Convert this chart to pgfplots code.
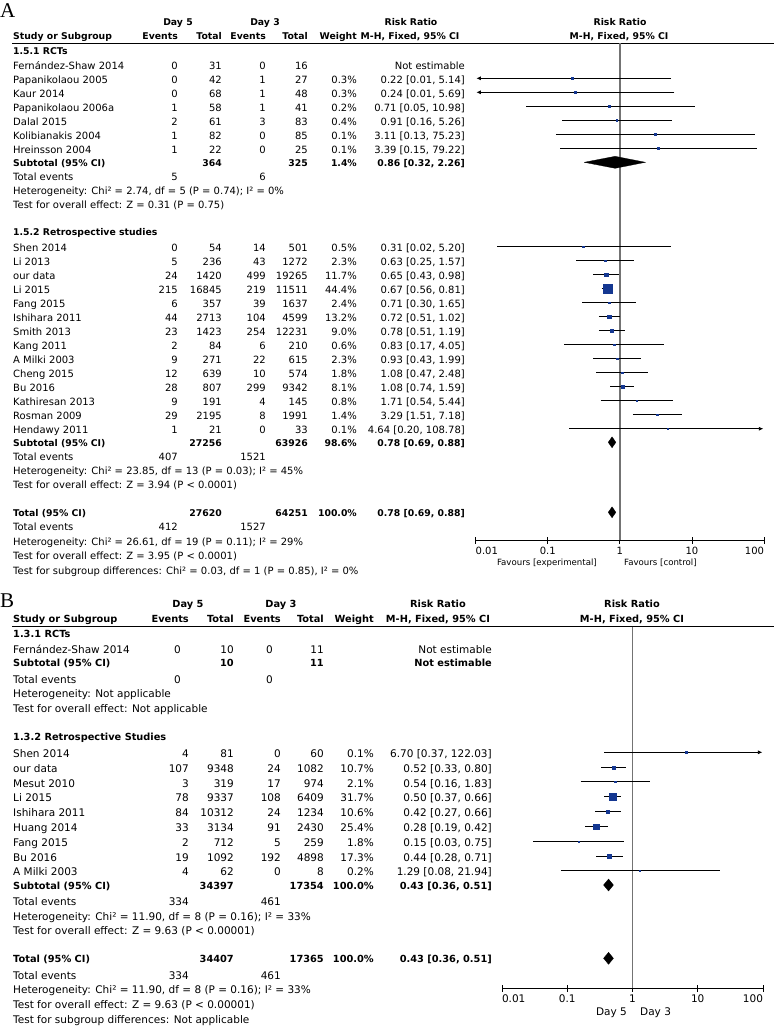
\documentclass[border=0pt]{standalone}
\usepackage{fontspec}
\setmainfont{DejaVu Sans}
\newfontfamily\serifL{Liberation Serif}
\usepackage{pgfplots}
\pgfplotsset{compat=1.18}
\usetikzlibrary{arrows.meta}
\definecolor{rmblue}{RGB}{20,55,145}
\definecolor{vgray}{RGB}{115,115,115}
\newcommand{\fA}{\fontsize{10}{12}\selectfont}
\newcommand{\fAb}{\fontsize{9.3}{12}\selectfont\bfseries}
\newcommand{\fB}{\fontsize{10.5}{12.5}\selectfont}
\newcommand{\fBb}{\fontsize{9.8}{12.5}\selectfont\bfseries}
\newcommand{\fS}{\fontsize{8.6}{10}\selectfont}
\newcommand{\TL}[4]{\node[anchor=base west,inner sep=0pt,font=#1] at (#2,-#3) {#4};}
\newcommand{\TR}[4]{\node[anchor=base east,inner sep=0pt,font=#1] at (#2,-#3) {#4};}
\newcommand{\TC}[4]{\node[anchor=base,inner sep=0pt,font=#1] at (#2,-#3) {#4};}
\newcommand{\rowX}[9]{%
\node[anchor=base west,inner sep=0pt,font=#1] at (13,-#2) {#3};%
\node[anchor=base east,inner sep=0pt,font=#1] at (\cEa,-#2) {#4};%
\node[anchor=base east,inner sep=0pt,font=#1] at (\cTa,-#2) {#5};%
\node[anchor=base east,inner sep=0pt,font=#1] at (\cEb,-#2) {#6};%
\node[anchor=base east,inner sep=0pt,font=#1] at (\cTb,-#2) {#7};%
\node[anchor=base east,inner sep=0pt,font=#1] at (\cW,-#2) {#8};%
\node[anchor=base east,inner sep=0pt,font=#1] at (\cR,-#2) {#9};}
\begin{document}
\begin{tikzpicture}[x=1pt,y=1pt]
\useasboundingbox (0,0) rectangle (774,-1026);
% ================= PANEL A =================
\node[anchor=base west,inner sep=0pt,font=\serifL\fontsize{21}{22}\selectfont] at (0,-17) {A};
\def\cEa{178}\def\cTa{222}\def\cEb{266}\def\cTb{308}\def\cW{357}\def\cR{465}
\TC{\fAb}{178}{25.5}{Day 5}
\TC{\fAb}{265}{25.5}{Day 3}
\TC{\fAb}{411}{25.5}{Risk Ratio}
\TC{\fAb}{620}{25.5}{Risk Ratio}
\rowX{\fAb}{39.5}{Study or Subgroup}{Events}{Total}{Events}{Total}{Weight}{}
\TC{\fAb}{410}{39.5}{M-H, Fixed, 95\% CI}
\TC{\fAb}{619}{39.5}{M-H, Fixed, 95\% CI}
\draw[black, line width=0.8pt] (12,-43.5) -- (774,-43.5);
\TL{\fAb}{13}{54.5}{1.5.1 RCTs}
\rowX{\fA}{69.3}{Fernández-Shaw 2014}{0}{31}{0}{16}{}{Not estimable}
\rowX{\fA}{83.3}{Papanikolaou 2005}{0}{42}{1}{27}{0.3\%}{0.22 [0.01, 5.14]}
\rowX{\fA}{97.3}{Kaur 2014}{0}{68}{1}{48}{0.3\%}{0.24 [0.01, 5.69]}
\rowX{\fA}{111.3}{Papanikolaou 2006a}{1}{58}{1}{41}{0.2\%}{0.71 [0.05, 10.98]}
\rowX{\fA}{125.3}{Dalal 2015}{2}{61}{3}{83}{0.4\%}{0.91 [0.16, 5.26]}
\rowX{\fA}{139.3}{Kolibianakis 2004}{1}{82}{0}{85}{0.1\%}{3.11 [0.13, 75.23]}
\rowX{\fA}{153.3}{Hreinsson 2004}{1}{22}{0}{25}{0.1\%}{3.39 [0.15, 79.22]}
\rowX{\fAb}{166.3}{Subtotal (95\% CI)}{}{364}{}{325}{1.4\%}{0.86 [0.32, 2.26]}
\rowX{\fA}{180.5}{Total events}{5}{}{6}{}{}{}
\TL{\fA}{13}{194.5}{Heterogeneity: Chi² = 2.74, df = 5 (P = 0.74); I² = 0\%}
\TL{\fA}{13}{208.5}{Test for overall effect: Z = 0.31 (P = 0.75)}
\TL{\fAb}{13}{235.5}{1.5.2 Retrospective studies}
\rowX{\fA}{251.7}{Shen 2014}{0}{54}{14}{501}{0.5\%}{0.31 [0.02, 5.20]}
\rowX{\fA}{265.7}{Li 2013}{5}{236}{43}{1272}{2.3\%}{0.63 [0.25, 1.57]}
\rowX{\fA}{279.7}{our data}{24}{1420}{499}{19265}{11.7\%}{0.65 [0.43, 0.98]}
\rowX{\fA}{293.7}{Li 2015}{215}{16845}{219}{11511}{44.4\%}{0.67 [0.56, 0.81]}
\rowX{\fA}{307.7}{Fang 2015}{6}{357}{39}{1637}{2.4\%}{0.71 [0.30, 1.65]}
\rowX{\fA}{321.7}{Ishihara 2011}{44}{2713}{104}{4599}{13.2\%}{0.72 [0.51, 1.02]}
\rowX{\fA}{335.7}{Smith 2013}{23}{1423}{254}{12231}{9.0\%}{0.78 [0.51, 1.19]}
\rowX{\fA}{349.7}{Kang 2011}{2}{84}{6}{210}{0.6\%}{0.83 [0.17, 4.05]}
\rowX{\fA}{363.7}{A Milki 2003}{9}{271}{22}{615}{2.3\%}{0.93 [0.43, 1.99]}
\rowX{\fA}{377.7}{Cheng 2015}{12}{639}{10}{574}{1.8\%}{1.08 [0.47, 2.48]}
\rowX{\fA}{391.7}{Bu 2016}{28}{807}{299}{9342}{8.1\%}{1.08 [0.74, 1.59]}
\rowX{\fA}{405.7}{Kathiresan 2013}{9}{191}{4}{145}{0.8\%}{1.71 [0.54, 5.44]}
\rowX{\fA}{419.7}{Rosman 2009}{29}{2195}{8}{1991}{1.4\%}{3.29 [1.51, 7.18]}
\rowX{\fA}{433.7}{Hendawy 2011}{1}{21}{0}{33}{0.1\%}{4.64 [0.20, 108.78]}
\rowX{\fAb}{446}{Subtotal (95\% CI)}{}{27256}{}{63926}{98.6\%}{0.78 [0.69, 0.88]}
\rowX{\fA}{460.5}{Total events}{407}{}{1521}{}{}{}
\TL{\fA}{13}{474.5}{Heterogeneity: Chi² = 23.85, df = 13 (P = 0.03); I² = 45\%}
\TL{\fA}{13}{488.5}{Test for overall effect: Z = 3.94 (P < 0.0001)}
\rowX{\fAb}{516}{Total (95\% CI)}{}{27620}{}{64251}{100.0\%}{0.78 [0.69, 0.88]}
\rowX{\fA}{530.5}{Total events}{412}{}{1527}{}{}{}
\TL{\fA}{13}{545}{Heterogeneity: Chi² = 26.61, df = 19 (P = 0.11); I² = 29\%}
\TL{\fA}{13}{559.5}{Test for overall effect: Z = 3.95 (P < 0.0001)}
\TL{\fA}{13}{574}{Test for subgroup differences: Chi² = 0.03, df = 1 (P = 0.85), I² = 0\%}
\begin{axis}[at={(475.7pt,-540pt)}, anchor=south west,
  scale only axis, width=288.3pt, height=497pt,
  xmode=log, xmin=0.01, xmax=100, ymin=-540, ymax=-43,
  axis x line=bottom, axis y line=none,
  x axis line style={-, black, line width=0.8pt},
  xtick={0.01,0.1,1,10,100},
  xticklabels={\makebox[0pt][l]{0.01},0.1,1,10,\makebox[0pt][r]{100}},
  xminorticks=false, major tick length=7pt, tick align=center,
  xtick style={black, line width=0.8pt},
  enlargelimits=false, clip=false,
  xticklabel style={font=\fA}]
\addplot[vgray, line width=1.4pt] coordinates {(1,-43) (1,-540)};
\addplot[black, line width=0.8pt, unbounded coords=jump] table {
x y
0.05 -106.3
10.98 -106.3
nan nan
0.16 -120.3
5.26 -120.3
nan nan
0.13 -134.3
75.23 -134.3
nan nan
0.15 -148.3
79.22 -148.3
nan nan
0.02 -246.7
5.20 -246.7
nan nan
0.25 -260.7
1.57 -260.7
nan nan
0.43 -274.7
0.98 -274.7
nan nan
0.56 -288.7
0.81 -288.7
nan nan
0.30 -302.7
1.65 -302.7
nan nan
0.51 -316.7
1.02 -316.7
nan nan
0.51 -330.7
1.19 -330.7
nan nan
0.17 -344.7
4.05 -344.7
nan nan
0.43 -358.7
1.99 -358.7
nan nan
0.47 -372.7
2.48 -372.7
nan nan
0.74 -386.7
1.59 -386.7
nan nan
0.54 -400.7
5.44 -400.7
nan nan
1.51 -414.7
7.18 -414.7
};
\addplot[black, line width=0.8pt, -{Latex[length=4.5pt,width=4pt]}] coordinates {(5.14,-78.3) (0.0102,-78.3)};
\addplot[black, line width=0.8pt, -{Latex[length=4.5pt,width=4pt]}] coordinates {(5.69,-92.3) (0.0102,-92.3)};
\addplot[black, line width=0.8pt, -{Latex[length=4.5pt,width=4pt]}] coordinates {(0.20,-428.7) (98,-428.7)};
\addplot[scatter, only marks, mark=square*,
    scatter/use mapped color={draw=rmblue, fill=rmblue},
    visualization depends on={\thisrow{h} \as \hs},
    scatter/@pre marker code/.append style={/tikz/mark size=\hs}] table {
x y h
0.22 -78.3 0.78
0.24 -92.3 0.78
0.71 -106.3 0.77
0.91 -120.3 0.78
3.11 -134.3 0.76
3.39 -148.3 0.76
0.31 -246.7 0.79
0.63 -260.7 0.95
0.65 -274.7 1.76
0.67 -288.7 4.57
0.71 -302.7 0.96
0.72 -316.7 1.88
0.78 -330.7 1.52
0.83 -344.7 0.80
0.93 -358.7 0.95
1.08 -372.7 0.91
1.08 -386.7 1.45
1.71 -400.7 0.82
3.29 -414.7 0.87
4.64 -428.7 0.76
};
\addplot[black, fill=black, line width=0.3pt] coordinates {(0.32,-162.3) (0.86,-156.3) (2.26,-162.3) (0.86,-168.3) (0.32,-162.3)};
\addplot[black, fill=black, line width=0.3pt] coordinates {(0.69,-442.3) (0.78,-436.8) (0.88,-442.3) (0.78,-447.8) (0.69,-442.3)};
\addplot[black, fill=black, line width=0.3pt] coordinates {(0.69,-512.3) (0.78,-506.8) (0.88,-512.3) (0.78,-517.8) (0.69,-512.3)};
\end{axis}
\TR{\fS}{597}{565.5}{Favours [experimental]}
\TL{\fS}{624}{565.5}{Favours [control]}
% ================= PANEL B =================
\node[anchor=base west,inner sep=0pt,font=\serifL\fontsize{21}{22}\selectfont] at (0,-607) {B};
\def\cEa{189}\def\cTa{234}\def\cEb{281}\def\cTb{324}\def\cW{374}\def\cR{492}
\TC{\fBb}{188}{607.7}{Day 5}
\TC{\fBb}{281}{607.7}{Day 3}
\TC{\fBb}{438}{607.7}{Risk Ratio}
\TC{\fBb}{632}{607.7}{Risk Ratio}
\rowX{\fBb}{622.7}{Study or Subgroup}{Events}{Total}{Events}{Total}{Weight}{}
\TC{\fBb}{438}{622.7}{M-H, Fixed, 95\% CI}
\TC{\fBb}{632}{622.7}{M-H, Fixed, 95\% CI}
\draw[black, line width=0.8pt] (12,-626.5) -- (774,-626.5);
\TL{\fBb}{13}{637.7}{1.3.1 RCTs}
\rowX{\fB}{653.7}{Fernández-Shaw 2014}{}{10}{}{11}{}{Not estimable}
\TR{\fB}{181}{653.7}{0}
\TR{\fB}{273}{653.7}{0}
\rowX{\fBb}{666.7}{Subtotal (95\% CI)}{}{10}{}{11}{}{Not estimable}
\rowX{\fB}{683.7}{Total events}{}{}{}{}{}{}
\TR{\fB}{181}{683.7}{0}
\TR{\fB}{273}{683.7}{0}
\TL{\fB}{13}{697.7}{Heterogeneity: Not applicable}
\TL{\fB}{13}{712.7}{Test for overall effect: Not applicable}
\TL{\fBb}{13}{740.7}{1.3.2 Retrospective Studies}
\rowX{\fB}{757.7}{Shen 2014}{4}{81}{0}{60}{0.1\%}{6.70 [0.37, 122.03]}
\rowX{\fB}{772.7}{our data}{107}{9348}{24}{1082}{10.7\%}{0.52 [0.33, 0.80]}
\rowX{\fB}{787.2}{Mesut 2010}{3}{319}{17}{974}{2.1\%}{0.54 [0.16, 1.83]}
\rowX{\fB}{801.7}{Li 2015}{78}{9337}{108}{6409}{31.7\%}{0.50 [0.37, 0.66]}
\rowX{\fB}{816.7}{Ishihara 2011}{84}{10312}{24}{1234}{10.6\%}{0.42 [0.27, 0.66]}
\rowX{\fB}{831.7}{Huang 2014}{33}{3134}{91}{2430}{25.4\%}{0.28 [0.19, 0.42]}
\rowX{\fB}{846.7}{Fang 2015}{2}{712}{5}{259}{1.8\%}{0.15 [0.03, 0.75]}
\rowX{\fB}{861}{Bu 2016}{19}{1092}{192}{4898}{17.3\%}{0.44 [0.28, 0.71]}
\rowX{\fB}{875.7}{A Milki 2003}{4}{62}{0}{8}{0.2\%}{1.29 [0.08, 21.94]}
\rowX{\fBb}{889}{Subtotal (95\% CI)}{}{34397}{}{17354}{100.0\%}{0.43 [0.36, 0.51]}
\rowX{\fB}{905.7}{Total events}{334}{}{461}{}{}{}
\TL{\fB}{13}{920.4}{Heterogeneity: Chi² = 11.90, df = 8 (P = 0.16); I² = 33\%}
\TL{\fB}{13}{934.7}{Test for overall effect: Z = 9.63 (P < 0.00001)}
\rowX{\fBb}{962.7}{Total (95\% CI)}{}{34407}{}{17365}{100.0\%}{0.43 [0.36, 0.51]}
\rowX{\fB}{979.4}{Total events}{334}{}{461}{}{}{}
\TL{\fB}{13}{993.7}{Heterogeneity: Chi² = 11.90, df = 8 (P = 0.16); I² = 33\%}
\TL{\fB}{13}{1008.7}{Test for overall effect: Z = 9.63 (P < 0.00001)}
\TL{\fB}{13}{1023.5}{Test for subgroup differences: Not applicable}
\begin{axis}[at={(502pt,-988pt)}, anchor=south west,
  scale only axis, width=261pt, height=361.5pt,
  xmode=log, xmin=0.01, xmax=100, ymin=-988, ymax=-626.5,
  axis x line=bottom, axis y line=none,
  x axis line style={-, black, line width=0.8pt},
  xtick={0.01,0.1,1,10,100},
  xticklabels={\makebox[0pt][l]{0.01},0.1,1,10,\makebox[0pt][r]{100}},
  xminorticks=false, major tick length=7pt, tick align=center,
  xtick style={black, line width=0.8pt},
  enlargelimits=false, clip=false,
  xticklabel style={font=\fB}]
\addplot[vgray, line width=1.4pt] coordinates {(1,-626.5) (1,-988)};
\addplot[black, line width=0.8pt, unbounded coords=jump] table {
x y
0.33 -767.3
0.80 -767.3
nan nan
0.16 -781.7
1.83 -781.7
nan nan
0.37 -796.7
0.66 -796.7
nan nan
0.27 -811.7
0.66 -811.7
nan nan
0.19 -826.7
0.42 -826.7
nan nan
0.03 -841.7
0.75 -841.7
nan nan
0.28 -856
0.71 -856
nan nan
0.08 -870.7
21.94 -870.7
};
\addplot[black, line width=0.8pt, -{Latex[length=4.5pt,width=4pt]}] coordinates {(0.37,-752.3) (98,-752.3)};
\addplot[scatter, only marks, mark=square*,
    scatter/use mapped color={draw=rmblue, fill=rmblue},
    visualization depends on={\thisrow{h} \as \hs},
    scatter/@pre marker code/.append style={/tikz/mark size=\hs}] table {
x y h
6.70 -752.3 0.76
0.52 -767.3 1.61
0.54 -781.7 0.92
0.50 -796.7 3.29
0.42 -811.7 1.60
0.28 -826.7 2.78
0.15 -841.7 0.89
0.44 -856 2.13
1.29 -870.7 0.77
};
\addplot[black, fill=black, line width=0.3pt] coordinates {(0.36,-885) (0.43,-879) (0.51,-885) (0.43,-891) (0.36,-885)};
\addplot[black, fill=black, line width=0.3pt] coordinates {(0.36,-958.3) (0.43,-952.3) (0.51,-958.3) (0.43,-964.3) (0.36,-958.3)};
\end{axis}
\TR{\fB}{627}{1015.7}{Day 5}
\TL{\fB}{640}{1015.7}{Day 3}
\end{tikzpicture}
\end{document}
